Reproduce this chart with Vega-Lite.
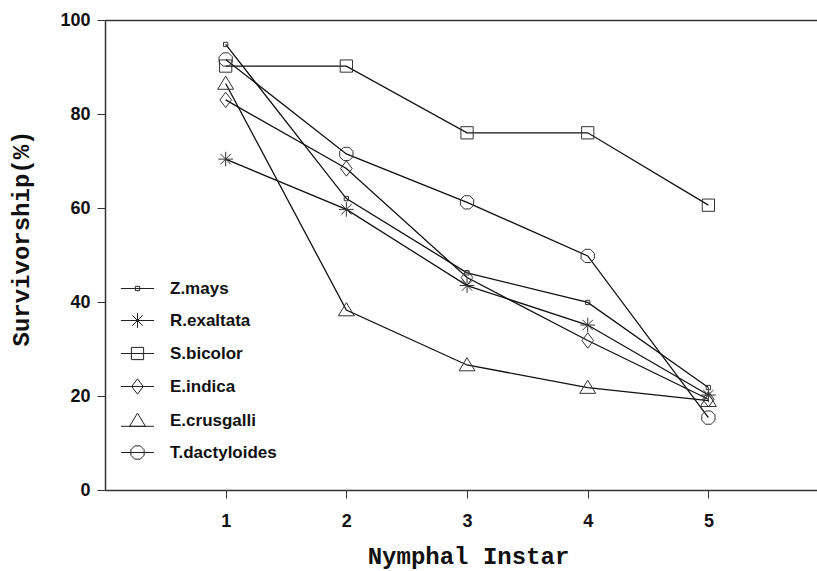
{
  "$schema": "https://vega.github.io/schema/vega-lite/v6.json",
  "width": 712,
  "height": 470,
  "autosize": {"type": "none"},
  "padding": {"left": 105, "top": 20, "right": 0, "bottom": 81},
  "background": "white",
  "config": {"view": {"stroke": null}},
  "data": {
    "values": [
      {"species": "Z.mays", "instar": 1, "survival": 94.8},
      {"species": "Z.mays", "instar": 2, "survival": 62.0},
      {"species": "Z.mays", "instar": 3, "survival": 46.2},
      {"species": "Z.mays", "instar": 4, "survival": 39.9},
      {"species": "Z.mays", "instar": 5, "survival": 21.8},
      {"species": "R.exaltata", "instar": 1, "survival": 70.4},
      {"species": "R.exaltata", "instar": 2, "survival": 59.7},
      {"species": "R.exaltata", "instar": 3, "survival": 43.5},
      {"species": "R.exaltata", "instar": 4, "survival": 35.1},
      {"species": "R.exaltata", "instar": 5, "survival": 20.2},
      {"species": "S.bicolor", "instar": 1, "survival": 90.2},
      {"species": "S.bicolor", "instar": 2, "survival": 90.2},
      {"species": "S.bicolor", "instar": 3, "survival": 76.0},
      {"species": "S.bicolor", "instar": 4, "survival": 76.0},
      {"species": "S.bicolor", "instar": 5, "survival": 60.6},
      {"species": "E.indica", "instar": 1, "survival": 83.0},
      {"species": "E.indica", "instar": 2, "survival": 68.4},
      {"species": "E.indica", "instar": 3, "survival": 45.2},
      {"species": "E.indica", "instar": 4, "survival": 31.8},
      {"species": "E.indica", "instar": 5, "survival": 19.3},
      {"species": "E.crusgalli", "instar": 1, "survival": 86.5},
      {"species": "E.crusgalli", "instar": 2, "survival": 38.3},
      {"species": "E.crusgalli", "instar": 3, "survival": 26.6},
      {"species": "E.crusgalli", "instar": 4, "survival": 21.8},
      {"species": "E.crusgalli", "instar": 5, "survival": 19.0},
      {"species": "T.dactyloides", "instar": 1, "survival": 91.6},
      {"species": "T.dactyloides", "instar": 2, "survival": 71.5},
      {"species": "T.dactyloides", "instar": 3, "survival": 61.2},
      {"species": "T.dactyloides", "instar": 4, "survival": 49.8},
      {"species": "T.dactyloides", "instar": 5, "survival": 15.4}
    ]
  },
  "layer": [
    {
      "mark": {"type": "line", "color": "#111", "strokeWidth": 1.3},
      "encoding": {
        "x": {
          "field": "instar", "type": "quantitative",
          "scale": {"domain": [0, 5.9], "nice": false, "zero": false},
          "axis": {
            "orient": "bottom", "values": [1, 2, 3, 4, 5], "grid": false,
            "domainColor": "#333", "domainWidth": 1.5,
            "tickColor": "#333", "tickSize": 8, "tickWidth": 1,
            "labelFont": "Liberation Sans", "labelFontSize": 18, "labelFontWeight": "bold",
            "labelColor": "#111", "labelPadding": 14,
            "title": "Nymphal Instar", "titleFont": "Liberation Mono", "titleFontSize": 24,
            "titleFontWeight": "bold", "titleColor": "#111",
            "titleBaseline": "alphabetic", "titleY": 73, "titleX": 363, "titleAnchor": "middle", "titleAlign": "center"
          }
        },
        "y": {
          "field": "survival", "type": "quantitative",
          "scale": {"domain": [0, 100], "nice": false},
          "axis": {
            "values": [0, 20, 40, 60, 80, 100], "grid": false,
            "domainColor": "#333", "domainWidth": 1.5,
            "tickColor": "#333", "tickSize": 8, "tickWidth": 1,
            "labelFont": "Liberation Sans", "labelFontSize": 18, "labelFontWeight": "bold",
            "labelColor": "#111", "labelPadding": 7,
            "title": "Survivorship(%)", "titleFont": "Liberation Mono", "titleFontSize": 24,
            "titleFontWeight": "bold", "titleColor": "#111",
            "titleAngle": 270, "titleBaseline": "middle", "titleX": -84, "titleY": 218, "titleAlign": "center"
          }
        },
        "detail": {"field": "species"}
      }
    },
    {
      "mark": {"type": "point", "filled": false, "stroke": "#333", "strokeWidth": 1, "size": 150, "opacity": 1},
      "encoding": {
        "x": {"field": "instar", "type": "quantitative", "axis": null},
        "y": {"field": "survival", "type": "quantitative"},
        "shape": {
          "field": "species", "type": "nominal", "legend": null,
          "scale": {
            "domain": ["Z.mays", "R.exaltata", "S.bicolor", "E.indica", "E.crusgalli", "T.dactyloides"],
            "range": [
              "M-0.35,-0.35H0.35V0.35H-0.35Z",
              "M0,-1.2V1.2M-1.2,0H1.2M-0.85,-0.85L0.85,0.85M-0.85,0.85L0.85,-0.85",
              "M-1,-1H1V1H-1Z",
              "M0,-1.25L0.95,0L0,1.25L-0.95,0Z",
              "M0,-1.2L1.3,0.95L-1.3,0.95Z",
              "M1.08,-0.45L1.08,0.45L0.45,1.08L-0.45,1.08L-1.08,0.45L-1.08,-0.45L-0.45,-1.08L0.45,-1.08Z"
            ]
          }
        }
      }
    },
    {
      "mark": {"type": "point", "filled": false, "stroke": "#333", "strokeWidth": 1, "size": 150, "opacity": 0},
      "encoding": {
        "x": {
          "field": "instar", "type": "quantitative",
          "axis": {"orient": "top", "labels": false, "ticks": false, "grid": false, "title": null, "domainColor": "#333", "domainWidth": 1.5}
        },
        "y": {"field": "survival", "type": "quantitative"},
        "shape": {
          "field": "species", "type": "nominal",
          "scale": {
            "domain": ["Z.mays", "R.exaltata", "S.bicolor", "E.indica", "E.crusgalli", "T.dactyloides"],
            "range": [
              "M-0.35,-0.35H0.35V0.35H-0.35Z M-2.7,0H2.7",
              "M0,-1.2V1.2M-1.2,0H1.2M-0.85,-0.85L0.85,0.85M-0.85,0.85L0.85,-0.85 M-2.7,0H2.7",
              "M-1,-1H1V1H-1Z M-2.7,0H2.7",
              "M0,-1.25L0.95,0L0,1.25L-0.95,0Z M-2.7,0H2.7",
              "M0,-1.2L1.3,0.95L-1.3,0.95Z M-2.7,0.95H2.7",
              "M1.08,-0.45L1.08,0.45L0.45,1.08L-0.45,1.08L-1.08,0.45L-1.08,-0.45L-0.45,-1.08L0.45,-1.08Z M-2.7,0H2.7"
            ]
          },
          "legend": {
            "orient": "none", "legendX": 24, "legendY": 260, "title": null,
            "symbolSize": 150, "symbolStrokeWidth": 1, "symbolStrokeColor": "#222",
            "symbolFillColor": "transparent", "symbolOpacity": 1,
            "labelFont": "Liberation Sans", "labelFontSize": 17, "labelFontWeight": "bold",
            "labelColor": "#111", "labelOffset": 24, "rowPadding": 14, "padding": 0
          }
        }
      }
    }
  ],
  "resolve": {
    "scale": {"shape": "independent"},
    "legend": {"shape": "independent"},
    "axis": {"x": "independent"}
  }
}
